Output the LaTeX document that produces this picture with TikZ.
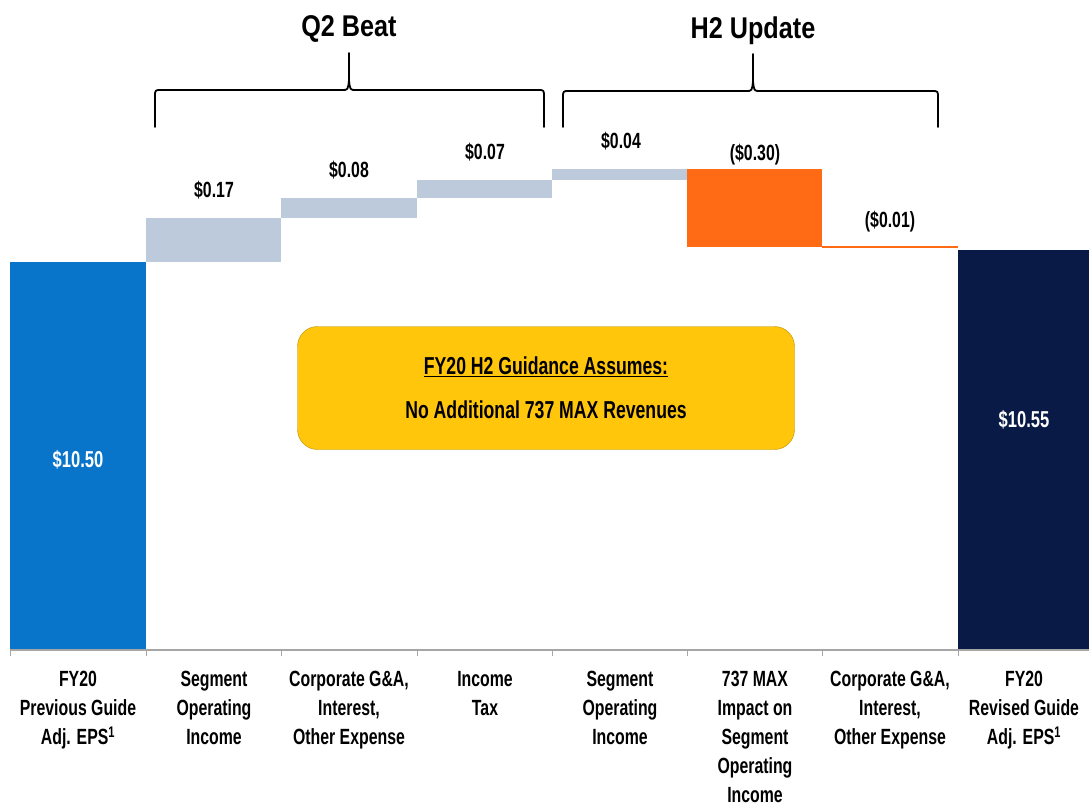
\documentclass[tikz,border=0pt]{standalone}
\usepackage{fontspec}
\setmainfont{Liberation Sans}[FakeStretch=0.84]
\newfontfamily\narrowsans{Liberation Sans}[FakeStretch=0.72]
\usetikzlibrary{positioning}
\definecolor{prevblue}{HTML}{0874CA}
\definecolor{beatgray}{HTML}{BDCADB}
\definecolor{maxorange}{HTML}{FF6B15}
\definecolor{revnavy}{HTML}{091A47}
\definecolor{guideyellow}{HTML}{FFC60B}
\definecolor{guideedge}{HTML}{B88E00}
\definecolor{axisgray}{HTML}{A6A6A6}

\begin{document}
\begin{tikzpicture}[x=1pt,y=-1pt,
  catlabel/.style={font=\narrowsans\bfseries\fontsize{22}{29}\selectfont,align=center,anchor=north},
  vallabel/.style={font=\narrowsans\bfseries\fontsize{22}{24}\selectfont},
  barlabel/.style={font=\narrowsans\bfseries\fontsize{23}{26}\selectfont,text=white},
  grouptitle/.style={font=\bfseries\fontsize{30}{34}\selectfont},
  brace/.style={line width=1.8pt,line cap=round,line join=round},
  guidebox/.style={draw=guideedge,fill=guideyellow,rounded corners=20pt,
    minimum width=497pt,minimum height=123pt,align=center,
    font=\narrowsans\bfseries\fontsize{24.5}{44}\selectfont}]
\useasboundingbox (0,0) rectangle (1089,807);

% bars
\fill[prevblue] (10,262) rectangle (146,649);
\fill[beatgray] (146,218) rectangle (281,262);
\fill[beatgray] (281,198) rectangle (417,218);
\fill[beatgray] (417,180) rectangle (552,198);
\fill[beatgray] (552,169) rectangle (687,180);
\fill[maxorange] (687,169) rectangle (822,247);
\fill[maxorange] (822,246) rectangle (958,248);
\fill[revnavy] (958,250) rectangle (1089,649);

% axis
\draw[axisgray,line width=1.5pt] (10,650) -- (1089,650);
\foreach \tx in {10,146,281,417,552,687,822,958}
  \draw[axisgray,line width=1pt] (\tx,650) -- (\tx,656);

% bar values
\node[barlabel] (prevval) at (78,460) {\$10.50};
\node[barlabel] (revval) at (1024,420) {\$10.55};
\node[vallabel] (segq2val) at (214,190) {\$0.17};
\node[vallabel] (corpq2val) at (349,170) {\$0.08};
\node[vallabel] (taxval) at (485,152) {\$0.07};
\node[vallabel] (segh2val) at (621,141) {\$0.04};
\node[vallabel] (maxval) at (755,155) {(\$0.30)};
\node[vallabel] (corph2val) at (890,222) {(\$0.01)};

% brackets
\draw[brace] (155,127) -- (155,97) .. controls (155,90) .. (161,90)
  -- (342,90) .. controls (348,90) .. (349,80) -- (349,53)
  (349,80) .. controls (350,90) .. (356,90) -- (538,90)
  .. controls (544,90) .. (544,97) -- (544,127);
\draw[brace] (563,127) -- (563,98) .. controls (563,91) .. (569,91)
  -- (746,91) .. controls (752,91) .. (753,81) -- (753,54)
  (753,81) .. controls (754,91) .. (760,91) -- (932,91)
  .. controls (938,91) .. (938,98) -- (938,127);
\node[grouptitle] (q2title) at (349,29) {Q2 Beat};
\node[grouptitle] (h2title) at (753,31) {H2 Update};

% guidance box
\node[guidebox] (guide) at (546,388)
  {\underline{FY20 H2 Guidance Assumes:}\\No Additional 737 MAX Revenues};

% categories
\node[catlabel] (prevcat) at (78,668) {FY20\\Previous Guide\\Adj. EPS\textsuperscript{1}};
\node[catlabel] (segq2cat) at (214,668) {Segment\\Operating\\Income};
\node[catlabel] (corpq2cat) at (349,668) {Corporate G\&A,\\Interest,\\Other Expense};
\node[catlabel] (taxcat) at (485,668) {Income\\Tax};
\node[catlabel] (segh2cat) at (620,668) {Segment\\Operating\\Income};
\node[catlabel] (maxcat) at (755,668) {737 MAX\\Impact on\\Segment\\Operating\\Income};
\node[catlabel] (corph2cat) at (890,668) {Corporate G\&A,\\Interest,\\Other Expense};
\node[catlabel] (revcat) at (1024,668) {FY20\\Revised Guide\\Adj. EPS\textsuperscript{1}};
\end{tikzpicture}
\end{document}
